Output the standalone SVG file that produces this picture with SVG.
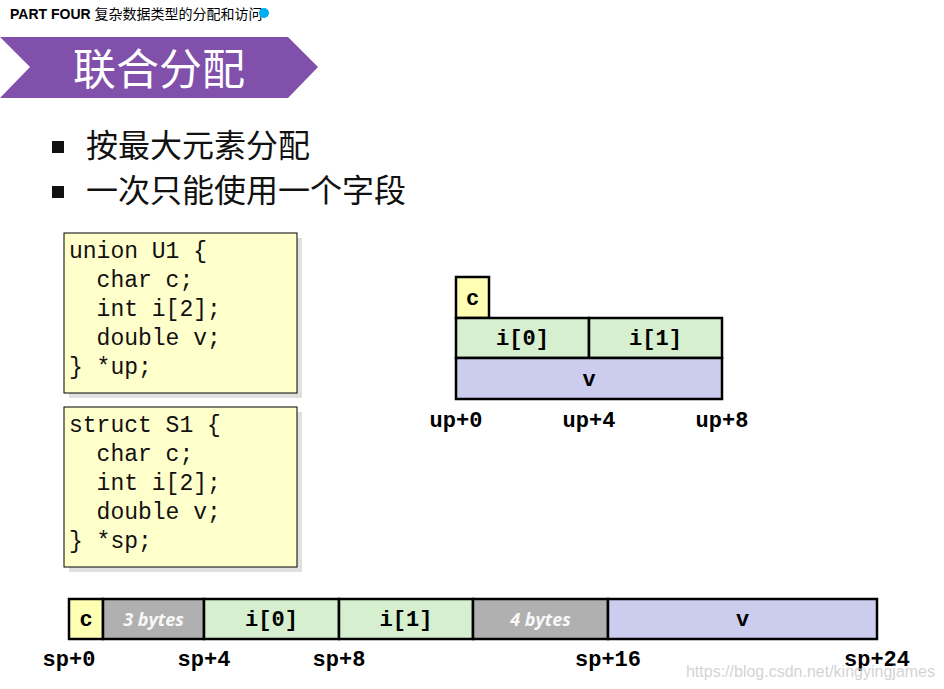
<svg xmlns="http://www.w3.org/2000/svg" width="944" height="689" viewBox="0 0 944 689">
<style>
.code{font-family:"Liberation Mono","Courier New",monospace;font-size:23px;fill:#111;}
.lbl{font-family:"Liberation Mono","Courier New",monospace;font-size:22px;font-weight:bold;fill:#000;text-anchor:middle;}
.cell{stroke:#000;stroke-width:2.5;}
.yel{fill:#FFFFB3;}
.grn{fill:#D5EFCF;}
.blu{fill:#CCCCEE;}
.gry{fill:#B0B0B0;}
.pad{font-family:"Open Sans","Noto Sans",sans-serif;font-size:18px;font-weight:bold;font-style:italic;fill:#F8F8F8;text-anchor:middle;}
.bul{font-family:"Noto Sans CJK SC","Noto Sans",sans-serif;font-size:32px;fill:#111;}
</style>
<rect width="944" height="689" fill="#fff"/>
<g id="header">
<text x="10" y="19" font-family="Liberation Sans,Arial,sans-serif" font-size="14" font-weight="bold" fill="#000">PART FOUR <tspan font-weight="normal" font-family="Noto Sans CJK SC,sans-serif">复杂数据类型的分配和访问</tspan></text>
<circle cx="264" cy="13" r="5" fill="#00AEEF"/>
</g>
<g id="banner">
<polygon points="0,37 288,37 318,67 288,98 0,98 30,67" fill="#8150AA"/>
<text x="159" y="85" font-family="Noto Sans CJK SC,sans-serif" font-size="43" fill="#fff" text-anchor="middle">联合分配</text>
</g>
<g id="bullets">
<rect x="52" y="141" width="12" height="12" fill="#111"/>
<text class="bul" x="86" y="157">按最大元素分配</text>
<rect x="52" y="186" width="12" height="12" fill="#111"/>
<text class="bul" x="86" y="202">一次只能使用一个字段</text>
</g>
<g id="union-code">
<rect x="69" y="238" width="233" height="160" fill="#E0E0E0"/>
<rect x="64" y="233" width="233" height="160" fill="#FFFFCC" stroke="#000" stroke-width="1"/>
<text class="code" xml:space="preserve"><tspan x="69" y="258">union U1 {</tspan><tspan x="69" y="287">  char c;</tspan><tspan x="69" y="316">  int i[2];</tspan><tspan x="69" y="345">  double v;</tspan><tspan x="69" y="374">} *up;</tspan></text>
</g>
<g id="struct-code">
<rect x="69" y="412" width="233" height="160" fill="#E0E0E0"/>
<rect x="64" y="407" width="233" height="160" fill="#FFFFCC" stroke="#000" stroke-width="1"/>
<text class="code" xml:space="preserve"><tspan x="69" y="432">struct S1 {</tspan><tspan x="69" y="461">  char c;</tspan><tspan x="69" y="490">  int i[2];</tspan><tspan x="69" y="519">  double v;</tspan><tspan x="69" y="548">} *sp;</tspan></text>
</g>
<g id="union-layout">
<rect class="cell yel" x="456" y="277" width="33" height="41"/>
<text class="lbl" x="472.5" y="305">c</text>
<rect class="cell grn" x="456" y="318" width="133" height="40"/>
<text class="lbl" x="522.5" y="345">i[0]</text>
<rect class="cell grn" x="589" y="318" width="133" height="40"/>
<text class="lbl" x="655.5" y="345">i[1]</text>
<rect class="cell blu" x="456" y="358" width="266" height="41"/>
<text class="lbl" x="589" y="386">v</text>
<text class="lbl" x="456" y="427">up+0</text>
<text class="lbl" x="589" y="427">up+4</text>
<text class="lbl" x="722" y="427">up+8</text>
</g>
<g id="struct-layout">
<rect class="cell yel" x="69" y="599" width="34" height="40"/>
<text class="lbl" x="86" y="626">c</text>
<rect class="cell gry" x="103" y="599" width="101" height="40"/>
<text class="pad" x="153.5" y="626">3 bytes</text>
<rect class="cell grn" x="204" y="599" width="135" height="40"/>
<text class="lbl" x="271.5" y="626">i[0]</text>
<rect class="cell grn" x="339" y="599" width="134" height="40"/>
<text class="lbl" x="406" y="626">i[1]</text>
<rect class="cell gry" x="473" y="599" width="135" height="40"/>
<text class="pad" x="540.5" y="626">4 bytes</text>
<rect class="cell blu" x="608" y="599" width="269" height="40"/>
<text class="lbl" x="742.5" y="626">v</text>
<text class="lbl" x="69" y="666">sp+0</text>
<text class="lbl" x="204" y="666">sp+4</text>
<text class="lbl" x="339" y="666">sp+8</text>
<text class="lbl" x="608" y="666">sp+16</text>
<text class="lbl" x="877" y="666">sp+24</text>
</g>
<text x="935" y="677" font-family="Liberation Sans,Arial,sans-serif" font-size="16" fill="#C8C8C8" fill-opacity="0.8" text-anchor="end">https://blog.csdn.net/kingyingjames</text>
</svg>
